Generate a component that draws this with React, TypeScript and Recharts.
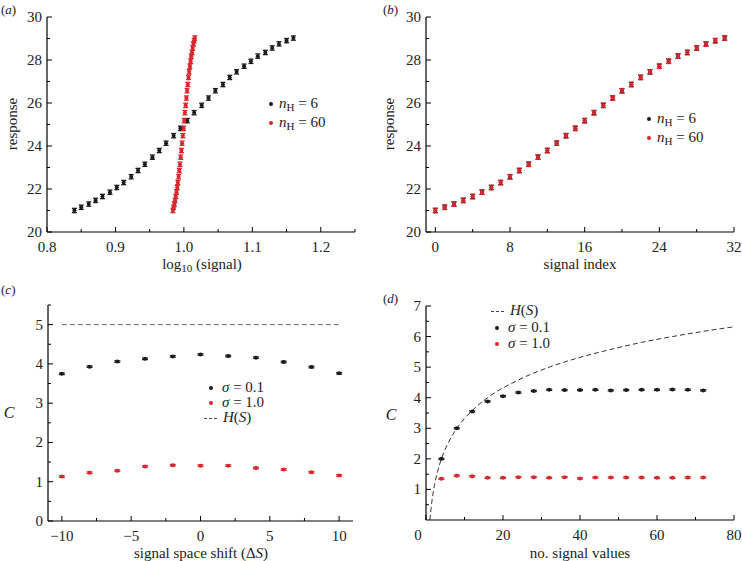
import React from 'react';
import { ComposedChart, Scatter, Line, XAxis, YAxis, ErrorBar } from 'recharts';

const FONT = '"Liberation Serif", "Times New Roman", serif';
const RED = '#d9262c';
const BLACK = '#1c1c1c';
const TEXT = '#222';

// ---------- panel (a) / (b) data ----------
const signalIndex = [0, 1, 2, 3, 4, 5, 6, 7, 8, 9, 10, 11, 12, 13, 14, 15, 16, 17, 18, 19, 20, 21, 22, 23, 24, 25, 26, 27, 28, 29, 30, 31];
const responseMean = [21.0, 21.15, 21.3, 21.47, 21.65, 21.85, 22.07, 22.3, 22.57, 22.86, 23.15, 23.48, 23.79, 24.13, 24.48, 24.82, 25.18, 25.55, 25.89, 26.23, 26.57, 26.86, 27.19, 27.45, 27.71, 27.94, 28.18, 28.35, 28.56, 28.75, 28.9, 29.02];
const logSignalH6 = [0.84, 0.85, 0.861, 0.871, 0.881, 0.892, 0.902, 0.912, 0.923, 0.933, 0.943, 0.954, 0.964, 0.974, 0.985, 0.995, 1.005, 1.015, 1.026, 1.036, 1.046, 1.057, 1.067, 1.077, 1.088, 1.098, 1.108, 1.119, 1.129, 1.139, 1.15, 1.16];
const logSignalH60 = [0.984, 0.985, 0.9861, 0.9871, 0.9881, 0.9892, 0.9902, 0.9912, 0.9923, 0.9933, 0.9943, 0.9954, 0.9964, 0.9974, 0.9985, 0.9995, 1.0005, 1.0015, 1.0026, 1.0036, 1.0046, 1.0057, 1.0067, 1.0077, 1.0088, 1.0098, 1.0108, 1.0119, 1.0129, 1.0139, 1.015, 1.016];
const responseErr = 0.1;

// ---------- panel (c) data ----------
const shiftValues = [-10, -8, -6, -4, -2, 0, 2, 4, 6, 8, 10];
const capShiftSigma01 = [3.75, 3.93, 4.06, 4.13, 4.19, 4.24, 4.2, 4.16, 4.05, 3.92, 3.76];
const capShiftSigma10 = [1.13, 1.23, 1.28, 1.39, 1.42, 1.41, 1.41, 1.35, 1.31, 1.24, 1.16];
const entropyShiftX = [-10, 10];
const entropyShiftY = [5, 5];
const capErr = 0.02;

// ---------- panel (d) data ----------
const numSignals = [4, 8, 12, 16, 20, 24, 28, 32, 36, 40, 44, 48, 52, 56, 60, 64, 68, 72];
const capNSigma01 = [2.0, 3.0, 3.55, 3.88, 4.05, 4.17, 4.22, 4.26, 4.25, 4.25, 4.26, 4.24, 4.25, 4.26, 4.26, 4.27, 4.26, 4.24];
const capNSigma10 = [1.35, 1.45, 1.43, 1.38, 1.38, 1.4, 1.4, 1.38, 1.4, 1.36, 1.39, 1.39, 1.39, 1.39, 1.38, 1.38, 1.39, 1.39];
const entropyNX = [1, 1.5, 2, 3, 4, 6, 8, 12, 16, 24, 32, 40, 48, 56, 64, 72, 80];
const entropyNY = [0, 0.58, 1, 1.58, 2, 2.58, 3, 3.58, 4, 4.58, 5, 5.32, 5.58, 5.81, 6, 6.17, 6.32];

// ---------- tick labels ----------
const ticksAX = [0.8, 0.85, 0.9, 0.95, 1.0, 1.05, 1.1, 1.15, 1.2, 1.25];
const majorsAX = [0.8, 0.9, 1.0, 1.1, 1.2];
const ticksRespY = [20, 21, 22, 23, 24, 25, 26, 27, 28, 29, 30];
const majorsRespY = [20, 22, 24, 26, 28, 30];
const ticksBX = [0, 4, 8, 12, 16, 20, 24, 28, 32];
const majorsBX = [0, 8, 16, 24, 32];
const ticksCX = [-10, -7.5, -5, -2.5, 0, 2.5, 5, 7.5, 10];
const majorsCX = [-10, -5, 0, 5, 10];
const ticksCY = [0, 0.5, 1, 1.5, 2, 2.5, 3, 3.5, 4, 4.5, 5, 5.5];
const majorsCY = [0, 1, 2, 3, 4, 5];
const ticksDX = [0, 10, 20, 30, 40, 50, 60, 70, 80];
const majorsDX = [0, 20, 40, 60, 80];
const ticksDY = [0.5, 1, 1.5, 2, 2.5, 3, 3.5, 4, 4.5, 5, 5.5, 6, 6.5, 7];
const majorsDY = [1, 2, 3, 4, 5, 6, 7];

const rows = (xs: number[], ys: number[], err: number) => xs.map((x, i) => ({ x, y: ys[i], err }));

const isIn = (arr: number[], v: number) => arr.some((m) => Math.abs(m - v) < 1e-9);
const fmtNum = (v: number, digits: number) => {
  const s = v.toFixed(digits);
  return s.startsWith('-') ? '\u2212' + s.slice(1) : s;
};

function makeYTick(majors: number[], digits: number) {
  return (props: any) => {
    const { x, y, payload } = props;
    const v = payload.value;
    const major = isIn(majors, v);
    return (
      <g>
        <line x1={x} x2={x + (major ? 5 : 3)} y1={y} y2={y} stroke="#000" strokeWidth={1} />
        {major && (
          <text x={x - 5} y={y + 5} textAnchor="end" fontSize={15} fontFamily={FONT} fill={TEXT}>
            {fmtNum(v, digits)}
          </text>
        )}
      </g>
    );
  };
}

function makeXTick(majors: number[], digits: number, shift?: (v: number) => number) {
  return (props: any) => {
    const { x, y, payload } = props;
    const v = payload.value;
    const major = isIn(majors, v);
    const dx = shift ? shift(v) : 0;
    return (
      <g>
        <line x1={x} x2={x} y1={y} y2={y - (major ? 5 : 3)} stroke="#000" strokeWidth={1} />
        {major && (
          <text x={x + dx} y={y + 20} textAnchor="middle" fontSize={15} fontFamily={FONT} fill={TEXT}>
            {fmtNum(v, digits)}
          </text>
        )}
      </g>
    );
  };
}

const dotShape = (color: string) => (p: any) => <circle cx={p.cx} cy={p.cy} r={2} fill={color} />;

const axisLine = { stroke: '#000', strokeWidth: 1.2 };
const YW = 40;
const XH = 30;

function Dot({ color }: { color: string }) {
  return (
    <span
      style={{
        display: 'inline-block',
        width: 4,
        height: 4,
        borderRadius: '50%',
        background: color,
        marginRight: 6,
        verticalAlign: 'middle',
        position: 'relative',
        top: -1,
      }}
    />
  );
}

function Dash() {
  return (
    <span
      style={{
        display: 'inline-block',
        width: 13,
        borderTop: '1px dashed #444',
        marginRight: 6,
        verticalAlign: 'middle',
      }}
    />
  );
}

const abs = (left: number, top: number, extra: React.CSSProperties = {}): React.CSSProperties => ({
  position: 'absolute',
  left,
  top,
  fontFamily: FONT,
  fontSize: 15,
  color: TEXT,
  whiteSpace: 'nowrap',
  lineHeight: '16px',
  ...extra,
});

const sub: React.CSSProperties = { fontSize: 11, verticalAlign: -3, lineHeight: 0 };

function PanelA() {
  return (
    <ComposedChart width={371} height={280} margin={{ top: 17, right: 16, bottom: 48 - XH, left: 47 - YW }}>
      <XAxis
        type="number"
        dataKey="x"
        domain={[0.8, 1.25]}
        allowDataOverflow
        ticks={ticksAX}
        interval={0}
        height={XH}
        tickSize={0}
        tickMargin={0}
        tickLine={false}
        axisLine={axisLine}
        tick={makeXTick(majorsAX, 1)}
      />
      <YAxis
        type="number"
        dataKey="y"
        domain={[20, 30]}
        allowDataOverflow
        ticks={ticksRespY}
        interval={0}
        width={YW}
        tickSize={0}
        tickMargin={0}
        tickLine={false}
        axisLine={axisLine}
        tick={makeYTick(majorsRespY, 0)}
      />
      <Scatter data={rows(logSignalH6, responseMean, responseErr)} dataKey="y" isAnimationActive={false} shape={dotShape(BLACK)}>
        <ErrorBar dataKey="err" direction="y" width={2.5} stroke={BLACK} strokeWidth={1.3} isAnimationActive={false} />
      </Scatter>
      <Scatter data={rows(logSignalH60, responseMean, responseErr)} dataKey="y" isAnimationActive={false} shape={dotShape(RED)}>
        <ErrorBar dataKey="err" direction="y" width={2.5} stroke={RED} strokeWidth={1.3} isAnimationActive={false} />
      </Scatter>
    </ComposedChart>
  );
}

function PanelB() {
  return (
    <ComposedChart width={371} height={280} margin={{ top: 17, right: 8, bottom: 48 - XH, left: 55 - YW }}>
      <XAxis
        type="number"
        dataKey="x"
        domain={[-1, 32]}
        allowDataOverflow
        ticks={ticksBX}
        interval={0}
        height={XH}
        tickSize={0}
        tickMargin={0}
        tickLine={false}
        axisLine={axisLine}
        tick={makeXTick(majorsBX, 0)}
      />
      <YAxis
        type="number"
        dataKey="y"
        domain={[20, 30]}
        allowDataOverflow
        ticks={ticksRespY}
        interval={0}
        width={YW}
        tickSize={0}
        tickMargin={0}
        tickLine={false}
        axisLine={axisLine}
        tick={makeYTick(majorsRespY, 0)}
      />
      <Scatter data={rows(signalIndex, responseMean, responseErr)} dataKey="y" isAnimationActive={false} shape={dotShape(BLACK)}>
        <ErrorBar dataKey="err" direction="y" width={2.5} stroke={BLACK} strokeWidth={1.3} isAnimationActive={false} />
      </Scatter>
      <Scatter data={rows(signalIndex, responseMean, responseErr)} dataKey="y" isAnimationActive={false} shape={dotShape(RED)}>
        <ErrorBar dataKey="err" direction="y" width={2.5} stroke={RED} strokeWidth={1.3} isAnimationActive={false} />
      </Scatter>
    </ComposedChart>
  );
}

function PanelC() {
  return (
    <ComposedChart width={371} height={281} margin={{ top: 25, right: 18, bottom: 40 - XH, left: 48 - YW }}>
      <XAxis
        type="number"
        dataKey="x"
        domain={[-11, 11]}
        allowDataOverflow
        ticks={ticksCX}
        interval={0}
        height={XH}
        tickSize={0}
        tickMargin={0}
        tickLine={false}
        axisLine={axisLine}
        tick={makeXTick(majorsCX, 0)}
      />
      <YAxis
        type="number"
        dataKey="y"
        domain={[0, 5.5]}
        allowDataOverflow
        ticks={ticksCY}
        interval={0}
        width={YW}
        tickSize={0}
        tickMargin={0}
        tickLine={false}
        axisLine={axisLine}
        tick={makeYTick(majorsCY, 0)}
      />
      <Line
        data={rows(entropyShiftX, entropyShiftY, 0)}
        dataKey="y"
        type="linear"
        stroke="#666"
        strokeWidth={1}
        strokeDasharray="5 3"
        dot={false}
        isAnimationActive={false}
      />
      <Scatter data={rows(shiftValues, capShiftSigma01, capErr)} dataKey="y" isAnimationActive={false} shape={dotShape(BLACK)}>
        <ErrorBar dataKey="err" direction="y" width={3} stroke={BLACK} strokeWidth={1.2} isAnimationActive={false} />
      </Scatter>
      <Scatter data={rows(shiftValues, capShiftSigma10, capErr)} dataKey="y" isAnimationActive={false} shape={dotShape(RED)}>
        <ErrorBar dataKey="err" direction="y" width={3} stroke={RED} strokeWidth={1.2} isAnimationActive={false} />
      </Scatter>
    </ComposedChart>
  );
}

function PanelD() {
  return (
    <ComposedChart width={371} height={281} margin={{ top: 26, right: 8, bottom: 41 - XH, left: 55 - YW }}>
      <XAxis
        type="number"
        dataKey="x"
        domain={[0, 80]}
        allowDataOverflow
        ticks={ticksDX}
        interval={0}
        height={XH}
        tickSize={0}
        tickMargin={0}
        tickLine={false}
        axisLine={axisLine}
        tick={makeXTick(majorsDX, 0, (v) => (v === 0 ? -8 : 0))}
      />
      <YAxis
        type="number"
        dataKey="y"
        domain={[0, 7]}
        allowDataOverflow
        ticks={ticksDY}
        interval={0}
        width={YW}
        tickSize={0}
        tickMargin={0}
        tickLine={false}
        axisLine={axisLine}
        tick={makeYTick(majorsDY, 0)}
      />
      <Line
        data={rows(entropyNX, entropyNY, 0)}
        dataKey="y"
        type="monotone"
        stroke="#333"
        strokeWidth={1}
        strokeDasharray="5 3"
        dot={false}
        isAnimationActive={false}
      />
      <Scatter data={rows(numSignals, capNSigma01, capErr)} dataKey="y" isAnimationActive={false} shape={dotShape(BLACK)}>
        <ErrorBar dataKey="err" direction="y" width={3} stroke={BLACK} strokeWidth={1.2} isAnimationActive={false} />
      </Scatter>
      <Scatter data={rows(numSignals, capNSigma10, capErr)} dataKey="y" isAnimationActive={false} shape={dotShape(RED)}>
        <ErrorBar dataKey="err" direction="y" width={3} stroke={RED} strokeWidth={1.2} isAnimationActive={false} />
      </Scatter>
    </ComposedChart>
  );
}

export default function App() {
  const rotated = (cx: number, cy: number): React.CSSProperties => ({
    position: 'absolute',
    left: cx,
    top: cy,
    transform: 'translate(-50%, -50%) rotate(-90deg)',
    fontFamily: FONT,
    fontSize: 15,
    lineHeight: '15px',
    color: TEXT,
    whiteSpace: 'nowrap',
  });
  const centered = (cx: number, cy: number, extra: React.CSSProperties = {}): React.CSSProperties => ({
    position: 'absolute',
    left: cx,
    top: cy,
    transform: 'translate(-50%, -50%)',
    fontFamily: FONT,
    fontSize: 15,
    lineHeight: '14px',
    color: TEXT,
    whiteSpace: 'nowrap',
    ...extra,
  });
  return (
    <div style={{ position: 'absolute', left: 0, top: 0, width: 742, height: 561, background: '#fff', overflow: 'hidden' }}>
      <div style={{ position: 'absolute', left: 0, top: 0 }}>
        <PanelA />
      </div>
      <div style={{ position: 'absolute', left: 371, top: 0 }}>
        <PanelB />
      </div>
      <div style={{ position: 'absolute', left: 0, top: 280 }}>
        <PanelC />
      </div>
      <div style={{ position: 'absolute', left: 371, top: 280 }}>
        <PanelD />
      </div>

      {/* panel letters */}
      <div style={abs(1, 2, { fontSize: 13 })}>(<i>a</i>)</div>
      <div style={abs(383, 2, { fontSize: 13 })}>(<i>b</i>)</div>
      <div style={abs(1, 282, { fontSize: 13 })}>(<i>c</i>)</div>
      <div style={abs(383, 291, { fontSize: 13 })}>(<i>d</i>)</div>

      {/* axis titles */}
      <div style={rotated(12, 124)}>response</div>
      <div style={rotated(389, 124)}>response</div>
      <div style={centered(202, 264)}>
        log<span style={sub}>10</span> (signal)
      </div>
      <div style={centered(580, 264)}>signal index</div>
      <div style={centered(201, 553)}>
        signal space shift (Δ<i>S</i>)
      </div>
      <div style={centered(580, 553)}>no. signal values</div>
      <div style={centered(9, 413, { fontSize: 16 })}>
        <i>C</i>
      </div>
      <div style={centered(391, 415, { fontSize: 16 })}>
        <i>C</i>
      </div>

      {/* legend (a) */}
      <div style={abs(269, 95)}>
        <Dot color={BLACK} />
        <i>n</i>
        <span style={sub}>H</span> = 6
      </div>
      <div style={abs(269, 114)}>
        <Dot color={RED} />
        <i>n</i>
        <span style={sub}>H</span> = 60
      </div>

      {/* legend (b) */}
      <div style={abs(647, 110)}>
        <Dot color={BLACK} />
        <i>n</i>
        <span style={sub}>H</span> = 6
      </div>
      <div style={abs(647, 129)}>
        <Dot color={RED} />
        <i>n</i>
        <span style={sub}>H</span> = 60
      </div>

      {/* legend (c) */}
      <div style={abs(209, 379)}>
        <Dot color={BLACK} />
        <span style={{ marginLeft: 3 }}>
          <i>σ</i> = 0.1
        </span>
      </div>
      <div style={abs(209, 394)}>
        <Dot color={RED} />
        <span style={{ marginLeft: 3 }}>
          <i>σ</i> = 1.0
        </span>
      </div>
      <div style={abs(204, 409)}>
        <Dash />
        <i>H</i>(<i>S</i>)
      </div>

      {/* legend (d) */}
      <div style={abs(491, 302)}>
        <Dash />
        <i>H</i>(<i>S</i>)
      </div>
      <div style={abs(495, 319)}>
        <Dot color={BLACK} />
        <span style={{ marginLeft: 3 }}>
          <i>σ</i> = 0.1
        </span>
      </div>
      <div style={abs(495, 335)}>
        <Dot color={RED} />
        <span style={{ marginLeft: 3 }}>
          <i>σ</i> = 1.0
        </span>
      </div>
    </div>
  );
}
